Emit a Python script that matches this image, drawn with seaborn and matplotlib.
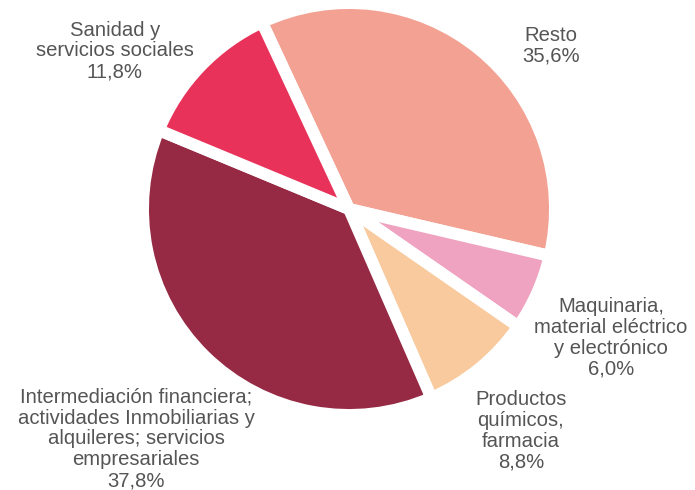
import matplotlib
matplotlib.use("Agg")
import matplotlib.pyplot as plt
import seaborn as sns

# Data
categories = [
    "Resto",
    "Maquinaria,\nmaterial eléctrico\ny electrónico",
    "Productos\nquímicos,\nfarmacia",
    "Intermediación financiera;\nactividades Inmobiliarias y\nalquileres; servicios\nempresariales",
    "Sanidad y\nservicios sociales",
]
values = [35.6, 6.0, 8.8, 37.8, 11.8]
value_labels = ["35,6%", "6,0%", "8,8%", "37,8%", "11,8%"]

# Styling
colors = ["#F2A192", "#EFA3C0", "#F8CA9E", "#962A44", "#E8325A"]
label_pos = [(551, 46), (611, 338), (521, 431), (136, 439), (115, 51)]  # pixels (x, y from top)

sns.set_theme(style="white")
plt.rcParams['font.family'] = ['Liberation Sans', 'DejaVu Sans']

W, H = 695, 490
fig = plt.figure(figsize=(W / 100, H / 100), dpi=100)
ax = fig.add_axes([0, 0, 1, 1])
palette = sns.color_palette(colors)

ax.pie(values, colors=palette, startangle=115, counterclock=False,
       center=(349, H - 209), radius=206,
       wedgeprops=dict(edgecolor="white", linewidth=8.6))

for cat, vl, (x, y) in zip(categories, value_labels, label_pos):
    ax.text(x, H - y, f"{cat}\n{vl}", ha="center", va="center",
            fontsize=14.6, color="#555555", linespacing=1.13)

ax.set_xlim(0, W)
ax.set_ylim(0, H)
ax.set_aspect("equal")
ax.axis("off")
fig.savefig("out.png", dpi=100, facecolor="white")
